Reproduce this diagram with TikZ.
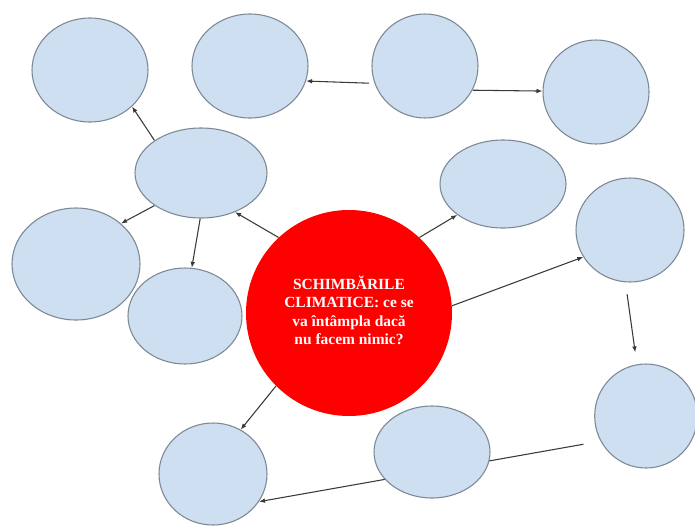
\documentclass[tikz,border=0pt]{standalone}
\usepackage{fontspec}
\setmainfont{Liberation Serif}
\usetikzlibrary{shapes.geometric,arrows.meta,backgrounds}
\definecolor{bubfill}{HTML}{CDDFF1}
\definecolor{bubline}{HTML}{7C8894}
\definecolor{conn}{HTML}{3A3A3A}
\tikzset{
  bub/.style={ellipse, draw=bubline, fill=bubfill, line width=0.8pt, inner sep=0pt},
  core/.style={circle, fill=red, inner sep=0pt, minimum size=154.5pt, text=white,
    font=\fontsize{11.6}{13.8}\selectfont\bfseries},
  link/.style={draw=conn, line width=0.8pt, -{Latex[length=4.5pt,width=3.5pt]}}
}
\begin{document}
\begin{tikzpicture}[x=0.75pt,y=-0.75pt]
\useasboundingbox (0,0) rectangle (695,525);
\node[core] (c) at (349,313) {\raisebox{4pt}{\begin{tabular}{@{}c@{}}SCHIMBĂRILE\\CLIMATICE: ce se\\va întâmpla dacă\\nu facem nimic?\end{tabular}}};
\node[bub, minimum width=87pt, minimum height=78pt] (e1) at (90,70) {};
\node[bub, minimum width=87pt, minimum height=78pt] (e2) at (250,66) {};
\node[bub, minimum width=79.5pt, minimum height=78pt] (e3) at (425,66) {};
\node[bub, minimum width=79.5pt, minimum height=78pt] (e4) at (596,92) {};
\node[bub, minimum width=99pt, minimum height=67.5pt] (e5) at (201,173) {};
\node[bub, minimum width=94.5pt, minimum height=66pt] (e6) at (503,184) {};
\node[bub, minimum width=96pt, minimum height=84pt] (e7) at (76,264) {};
\node[bub, minimum width=85.5pt, minimum height=72pt] (e8) at (185,316) {};
\node[bub, minimum width=81pt, minimum height=78pt] (e9) at (630,230) {};
\node[bub, minimum width=77pt, minimum height=78pt] (e10) at (646,416) {};
\node[bub, minimum width=87pt, minimum height=69pt] (e11) at (432,452) {};
\node[bub, minimum width=81pt, minimum height=76.5pt] (e12) at (213,474) {};
\begin{scope}[on background layer]
  \fill[white] (0,0) rectangle (695,525);
  \draw[link] (c.133) -- (e5.-49);
  \draw[link] (e5.145) -- (e1.-41);
  \draw[link] (e5.215) -- (e7.42);
  \draw[link] (e5.269) -- (e8.82);
  \draw[link, shorten <=4pt] (e3.199) -- (e2.-15);
  \draw[link] (e3.-27) -- (e4.179);
  \draw[link] (c.47) -- (e6.214);
  \draw[link] (c.4) -- (e9.210);
  \draw[link, shorten <=9pt, shorten >=9pt] (e9.265) -- (e10.100);
  \draw[link, shorten <=13pt] (e10.209) -- (e12.-31);
  \draw[link] (c.225) -- (e12.58);
\end{scope}
\end{tikzpicture}
\end{document}
